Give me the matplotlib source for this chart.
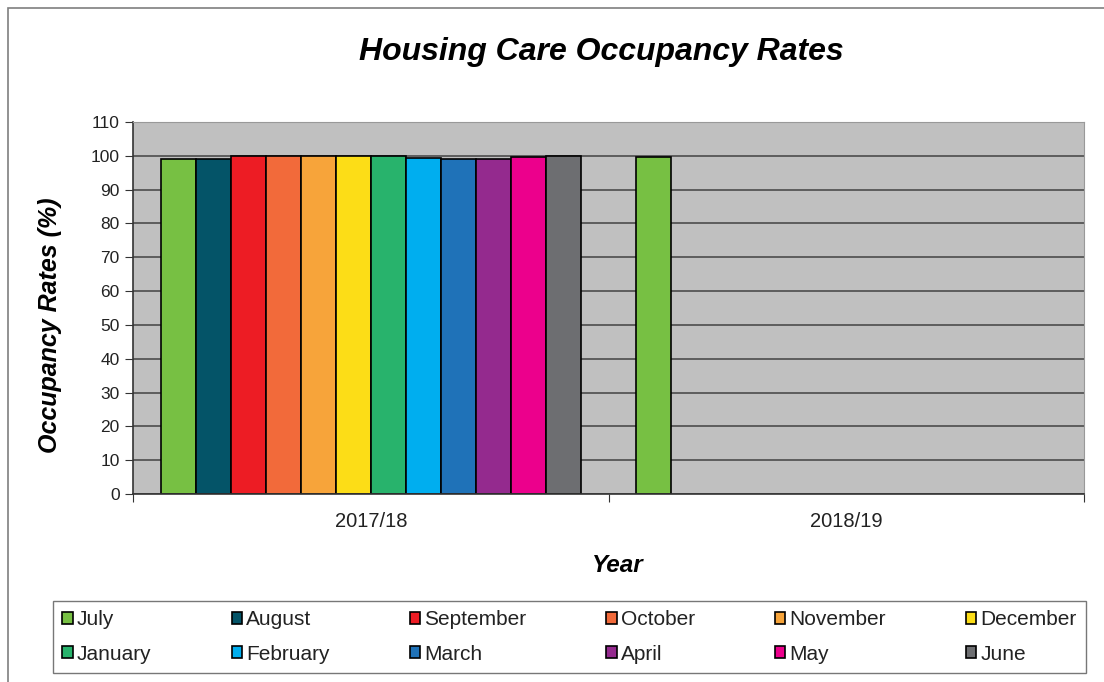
import numpy as np
import matplotlib
matplotlib.use("Agg")
import matplotlib.pyplot as plt
from matplotlib.patches import Rectangle

plt.rcParams["font.family"] = ["Liberation Sans", "DejaVu Sans"]

years = ["2017/18", "2018/19"]
months = ["July", "August", "September", "October", "November", "December",
          "January", "February", "March", "April", "May", "June"]
colors = ["#77c043", "#045468", "#ed1c24", "#f26a3a", "#f7a43a", "#fcdd17",
          "#28b36c", "#00aeef", "#1f72b8", "#942a8e", "#ec008c", "#6d6e71"]
rates_1718 = [99.0, 99.0, 99.8, 99.8, 100.0, 100.0, 99.9, 99.5, 99.1, 99.1, 99.6, 100.0]
rates_1819 = [99.7, None, None, None, None, None, None, None, None, None, None, None]

fig = plt.figure(figsize=(11.04, 6.82), dpi=100)
fig.patches.append(Rectangle((8 / 1104, -0.1), 1.2, 1 - 8 / 682 + 0.1,
                             transform=fig.transFigure, fill=False,
                             edgecolor="#7f7f7f", lw=1.2))

ax = fig.add_axes([133 / 1104, 1 - 494 / 682, 951 / 1104, 372 / 682])
ax.set_facecolor("#c0c0c0")
ax.set_axisbelow(True)

width = 35 / 475.5
start = (1 - 12 * width) / 2
handles = []
for i, (m, c) in enumerate(zip(months, colors)):
    xs, hs = [], []
    for j, series in enumerate([rates_1718, rates_1819]):
        if series[i] is not None:
            xs.append(j - 0.5 + start + width * (i + 0.5))
            hs.append(series[i])
    handles.append(ax.bar(xs, hs, width=width, color=c, edgecolor="black",
                          lw=1.2, label=m))

ax.set_xlim(-0.5, 1.5)
ax.set_ylim(0, 110)
ax.set_yticks(range(0, 111, 10))
ax.yaxis.grid(True, color="#555555", lw=1.3)
ax.set_xticks([-0.5, 0.5, 1.5])
ax.set_xticklabels([])
ax.set_xticks([0, 1], minor=True)
ax.set_xticklabels(years, minor=True)
ax.tick_params(axis="x", which="minor", length=0, pad=13, labelsize=14.5,
               labelcolor="#222222")
ax.tick_params(axis="x", which="major", length=6, color="#333333")
ax.tick_params(axis="y", length=6, color="#333333", labelsize=12.5,
               labelcolor="#222222")
for s in ["top", "right"]:
    ax.spines[s].set_color("#999999")
for s in ["left", "bottom"]:
    ax.spines[s].set_color("#333333")
    ax.spines[s].set_linewidth(1.2)

fig.text(50 / 1104, 1 - 325 / 682, "Occupancy Rates (%)", fontsize=18,
         fontweight="bold", fontstyle="italic", rotation=90,
         ha="center", va="center")
fig.text(618 / 1104, 1 - 565 / 682, "Year", fontsize=17.5,
         fontweight="bold", fontstyle="italic", ha="center", va="center")
fig.text(601 / 1104, 1 - 52 / 682, "Housing Care Occupancy Rates",
         fontsize=23, fontweight="bold", fontstyle="italic",
         ha="center", va="center")

# legend fills row by row in the reference
order = [k for pair in zip(range(6), range(6, 12)) for k in pair]
leg = fig.legend([handles[k] for k in order], [months[k] for k in order],
                 loc="lower left", ncol=6, mode="expand",
                 bbox_to_anchor=(53 / 1104, 1 - 673 / 682, 1033 / 1104, 70 / 682),
                 fontsize=15, frameon=True, fancybox=False,
                 handlelength=0.5, handleheight=0.5, handletextpad=0.2,
                 borderaxespad=0, labelspacing=0.75, borderpad=0.45)
leg.get_frame().set_edgecolor("#555555")
leg.get_frame().set_linewidth(1.0)
for t in leg.get_texts():
    t.set_color("#222222")

fig.savefig("out.png", dpi=100)
plt.close(fig)
